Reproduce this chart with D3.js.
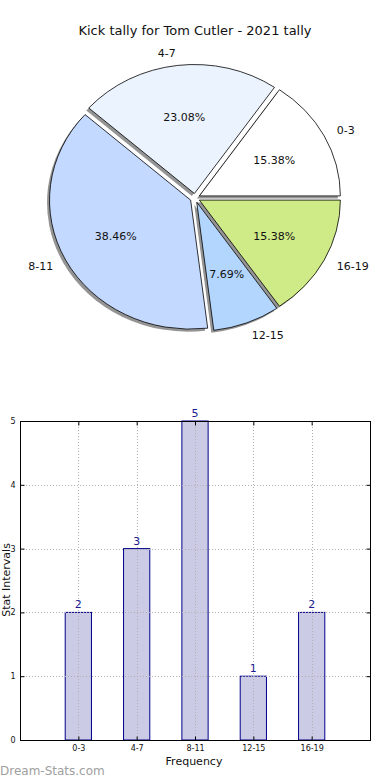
<!DOCTYPE html>
<html>
<head>
<meta charset="utf-8">
<script src="https://cdn.jsdelivr.net/npm/d3@7"></script>
<style>
  html, body { margin: 0; padding: 0; background: #fff; }
  svg { display: block; font-family: "DejaVu Sans", sans-serif; }
</style>
</head>
<body>
<svg id="chart" width="390" height="780"></svg>
<script>
const title = "Kick tally for Tom Cutler - 2021 tally";
const categories = ["0-3", "4-7", "8-11", "12-15", "16-19"];
const values = [2, 3, 5, 1, 2];
const pieColors = ["#ffffff", "#ebf3ff", "#c4d9ff", "#b3d6ff", "#cfeb88"];
const yTicks = [0, 1, 2, 3, 4, 5];
const xLabel = "Frequency";
const yLabel = "Stat Intervals";
const watermark = "Dream-Stats.com";

const svg = d3.select("#chart");

// ---------- Pie ----------
const cx = 195, cy = 198, rx = 141, ry = 129, explode = 0.035;
svg.append("text").attr("x", 195).attr("y", 35).attr("text-anchor", "middle")
  .attr("font-size", 13).attr("fill", "#111").text(title);

const total = d3.sum(values);
const pie = d3.pie().sort(null).startAngle(Math.PI / 2).endAngle(Math.PI / 2 - 2 * Math.PI);
const arcs = pie(values);
const arc = d3.arc().innerRadius(0).outerRadius(1);

function off(d) {
  const m = (d.startAngle + d.endAngle) / 2;
  return [Math.sin(m), -Math.cos(m)];
}

const pieG = svg.append("g");
// shadows
pieG.selectAll("path.shadow").data(arcs).join("path")
  .attr("class", "shadow")
  .attr("transform", d => {
    const [dx, dy] = off(d);
    return `translate(${cx + explode * rx * dx - 2.5},${cy + explode * ry * dy + 2.5}) scale(${rx},${ry})`;
  })
  .attr("d", arc)
  .attr("fill", "#888")
  .attr("fill-opacity", 0.9);
// wedges
pieG.selectAll("path.wedge").data(arcs).join("path")
  .attr("class", "wedge")
  .attr("transform", d => {
    const [dx, dy] = off(d);
    return `translate(${cx + explode * rx * dx},${cy + explode * ry * dy}) scale(${rx},${ry})`;
  })
  .attr("d", arc)
  .attr("fill", (d, i) => pieColors[i])
  .attr("stroke", "#000")
  .attr("stroke-width", 0.8)
  .attr("vector-effect", "non-scaling-stroke");

// outer labels
pieG.selectAll("text.lbl").data(arcs).join("text")
  .attr("class", "lbl")
  .attr("x", d => { const [dx] = off(d); return cx + (1.1 + explode) * rx * dx; })
  .attr("y", d => { const [, dy] = off(d); return cy + (1.1 + explode) * ry * dy; })
  .attr("dy", "0.35em")
  .attr("text-anchor", d => off(d)[0] > 0 ? "start" : "end")
  .attr("font-size", 11).attr("fill", "#111")
  .text((d, i) => categories[i]);
// pct labels
pieG.selectAll("text.pct").data(arcs).join("text")
  .attr("class", "pct")
  .attr("x", d => { const [dx] = off(d); return cx + (0.6 + explode) * rx * dx; })
  .attr("y", d => { const [, dy] = off(d); return cy + (0.6 + explode) * ry * dy; })
  .attr("dy", "0.35em")
  .attr("text-anchor", "middle")
  .attr("font-size", 11).attr("fill", "#111")
  .text(d => (d.value / total * 100).toFixed(2) + "%");

// ---------- Bar chart ----------
const L = 20, R = 370, T = 421, B = 740;
const x = d3.scaleLinear().domain([-1, categories.length]).range([L, R]);
const y = d3.scaleLinear().domain([0, 5]).range([B, T]);
const bw = 0.45;
const g = svg.append("g");

// bars
g.selectAll("rect.bar").data(values).join("rect")
  .attr("class", "bar")
  .attr("x", (d, i) => x(i - bw / 2))
  .attr("width", (d, i) => x(i + bw / 2) - x(i - bw / 2))
  .attr("y", d => y(d))
  .attr("height", d => y(0) - y(d))
  .attr("fill", "#cbcbe5")
  .attr("stroke", "#00008b")
  .attr("stroke-width", 1);

// grid
g.selectAll("line.hg").data(yTicks).join("line")
  .attr("x1", L).attr("x2", R)
  .attr("y1", d => Math.round(y(d)) + 0.5).attr("y2", d => Math.round(y(d)) + 0.5)
  .attr("stroke", "#b0b0b0").attr("stroke-dasharray", "1,2");
g.selectAll("line.vg").data(categories).join("line")
  .attr("x1", (d, i) => Math.round(x(i)) + 0.5).attr("x2", (d, i) => Math.round(x(i)) + 0.5)
  .attr("y1", T).attr("y2", B)
  .attr("stroke", "#b0b0b0").attr("stroke-dasharray", "1,2");

// frame
g.append("rect").attr("x", L + 0.5).attr("y", T + 0.5).attr("width", R - L).attr("height", B - T)
  .attr("fill", "none").attr("stroke", "#000").attr("stroke-width", 1);

// axes (inward ticks)
const yAxisL = d3.axisLeft(y).tickValues(yTicks).tickSize(-4).tickPadding(5).tickFormat(d3.format("d"));
const yAxisR = d3.axisRight(y).tickValues(yTicks).tickSize(-4).tickFormat("");
const xAxisB = d3.axisBottom(x).tickValues(d3.range(categories.length)).tickSize(-4).tickPadding(5)
  .tickFormat(i => categories[i]);
const xAxisT = d3.axisTop(x).tickValues(d3.range(categories.length)).tickSize(-4).tickFormat("");

function styleAxis(sel) {
  sel.select(".domain").remove();
  sel.selectAll("text").attr("font-size", 8).attr("fill", "#111").attr("font-family", "DejaVu Sans, sans-serif");
  sel.selectAll("line").attr("stroke", "#000");
}
g.append("g").attr("transform", `translate(${L + 0.5},0)`).call(yAxisL).call(styleAxis);
g.append("g").attr("transform", `translate(${R + 0.5},0)`).call(yAxisR).call(styleAxis);
g.append("g").attr("transform", `translate(0,${B + 0.5})`).call(xAxisB).call(styleAxis);
g.append("g").attr("transform", `translate(0,${T + 0.5})`).call(xAxisT).call(styleAxis);

// value labels
g.selectAll("text.val").data(values).join("text")
  .attr("x", (d, i) => x(i))
  .attr("y", d => y(d) - 4)
  .attr("text-anchor", "middle")
  .attr("font-size", 11).attr("fill", "#1c1c94")
  .text(d => d);

// axis labels
svg.append("text").attr("x", 194).attr("y", 765).attr("text-anchor", "middle")
  .attr("font-size", 11).attr("fill", "#111").text(xLabel);
svg.append("text").attr("transform", "translate(10,580) rotate(-90)").attr("text-anchor", "middle")
  .attr("font-size", 11).attr("fill", "#111").text(yLabel);

// watermark
svg.append("text").attr("x", 0).attr("y", 775).attr("font-size", 12)
  .attr("fill", "#a0a0a0").text(watermark);
</script>
</body>
</html>
